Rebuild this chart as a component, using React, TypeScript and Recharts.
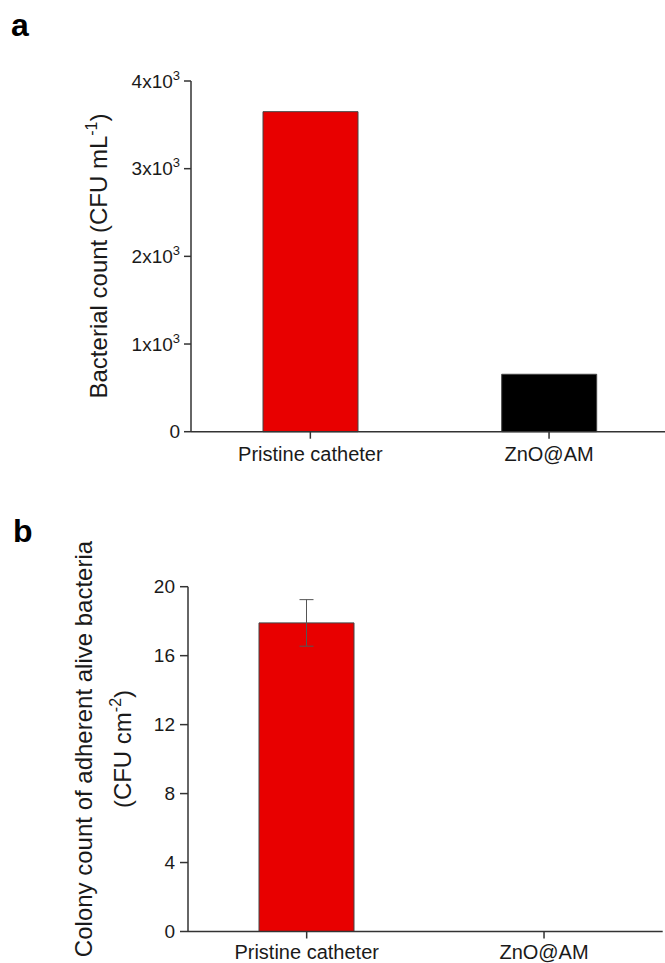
import { Bar, BarChart, Cell, ErrorBar, XAxis, YAxis } from "recharts";

// categories shared by both panels
const categories = ["Pristine catheter", "ZnO@AM"];

// panel a: bacterial count (CFU mL-1)
const bacterialCount = [3650, 655];
const countTicks = [0, 1000, 2000, 3000, 4000];
const countColors = ["#e80000", "#000000"];

// panel b: colony count of adherent alive bacteria (CFU cm-2)
const colonyCount = [17.9, 0];
const colonyError: (number | null)[] = [1.35, null];
const colonyTicks = [0, 4, 8, 12, 16, 20];

const dataA = categories.map((name, i) => ({ name, value: bacterialCount[i] }));
const dataB = categories.map((name, i) => ({ name, value: colonyCount[i], err: colonyError[i] }));

const FONT = "'Liberation Sans', Arial, sans-serif";
const AXIS = "#333";
const TEXT = "#1a1a1a";

function SciTick({ x, y, payload }: any) {
  const v = payload.value as number;
  if (v === 0) {
    return (
      <text x={x} y={y} dy="0.355em" textAnchor="end" fontSize={19} fill={TEXT}>
        0
      </text>
    );
  }
  return (
    <text x={x} y={y} dy="0.355em" textAnchor="end" fontSize={19} fill={TEXT}>
      {`${v / 1000}x10`}
      <tspan dy={-8} fontSize={13}>3</tspan>
    </text>
  );
}

function LabelA() {
  return (
    <g>
      <text x={11} y={36} fontSize={32} fontWeight="bold" fill="#000">a</text>
      <text transform="translate(107,256) rotate(-90)" textAnchor="middle" fontSize={24} fill={TEXT}>
        Bacterial count (CFU mL
        <tspan dy={-10} fontSize={16}>-1</tspan>
        <tspan dy={10}>)</tspan>
      </text>
    </g>
  );
}

function LabelB() {
  return (
    <g>
      <text x={13} y={62} fontSize={32} fontWeight="bold" fill="#000">b</text>
      <text transform="translate(92,269) rotate(-90)" textAnchor="middle" fontSize={24} fill={TEXT}>
        Colony count of adherent alive bacteria
      </text>
      <text transform="translate(131,269) rotate(-90)" textAnchor="middle" fontSize={24} fill={TEXT}>
        (CFU cm
        <tspan dy={-10} fontSize={16}>-2</tspan>
        <tspan dy={10}>)</tspan>
      </text>
    </g>
  );
}

export default function App() {
  return (
    <div
      style={{
        position: "absolute",
        left: 0,
        top: 0,
        width: 665,
        height: 963,
        overflow: "hidden",
        background: "#fff",
        fontFamily: FONT,
      }}
    >
      <div style={{ position: "absolute", left: 0, top: 0 }}>
        <BarChart width={680} height={480} data={dataA} margin={{ top: 81, right: 11.6, left: 0, bottom: 18.3 }} style={{ fontFamily: FONT }}>
          <XAxis
            dataKey="name"
            height={30}
            stroke={AXIS}
            strokeWidth={1.5}
            tickSize={7}
            tickMargin={8}
            tick={{ fill: TEXT, fontSize: 20 }}
          />
          <XAxis xAxisId="top" dataKey="name" orientation="top" height={0} tick={false} tickLine={false} stroke={AXIS} strokeWidth={1.5} />
          <YAxis
            width={191}
            domain={[0, 4000]}
            ticks={countTicks}
            stroke={AXIS}
            strokeWidth={1.5}
            tickSize={7}
            tickMargin={4}
            tick={<SciTick />}
            label={{ content: () => <LabelA /> }}
          />
          <YAxis yAxisId="right" orientation="right" width={0} tick={false} tickLine={false} stroke={AXIS} strokeWidth={1.5} />
          <Bar dataKey="value" barSize={95} stroke="#444" strokeWidth={1} isAnimationActive={false}>
            {dataA.map((d, i) => (
              <Cell key={d.name} fill={countColors[i]} />
            ))}
          </Bar>
        </BarChart>
      </div>
      <div style={{ position: "absolute", left: 0, top: 480 }}>
        <BarChart width={680} height={483} data={dataB} margin={{ top: 106.7, right: 17.3, left: 0, bottom: 1.5 }} style={{ fontFamily: FONT }}>
          <XAxis
            dataKey="name"
            height={30}
            stroke={AXIS}
            strokeWidth={1.5}
            tickSize={7}
            tickMargin={6}
            tick={{ fill: TEXT, fontSize: 20 }}
          />
          <XAxis xAxisId="top" dataKey="name" orientation="top" height={0} tick={false} tickLine={false} stroke={AXIS} strokeWidth={1.5} />
          <YAxis
            width={188}
            domain={[0, 20]}
            ticks={colonyTicks}
            stroke={AXIS}
            strokeWidth={1.5}
            tickSize={8}
            tickMargin={5}
            tick={{ fill: TEXT, fontSize: 19 }}
            label={{ content: () => <LabelB /> }}
          />
          <YAxis yAxisId="right" orientation="right" width={0} tick={false} tickLine={false} stroke={AXIS} strokeWidth={1.5} />
          <Bar dataKey="value" barSize={95} fill="#e80000" stroke="#444" strokeWidth={1} isAnimationActive={false}>
            <ErrorBar dataKey="err" width={7} stroke="#555" strokeWidth={1} />
          </Bar>
        </BarChart>
      </div>
    </div>
  );
}
